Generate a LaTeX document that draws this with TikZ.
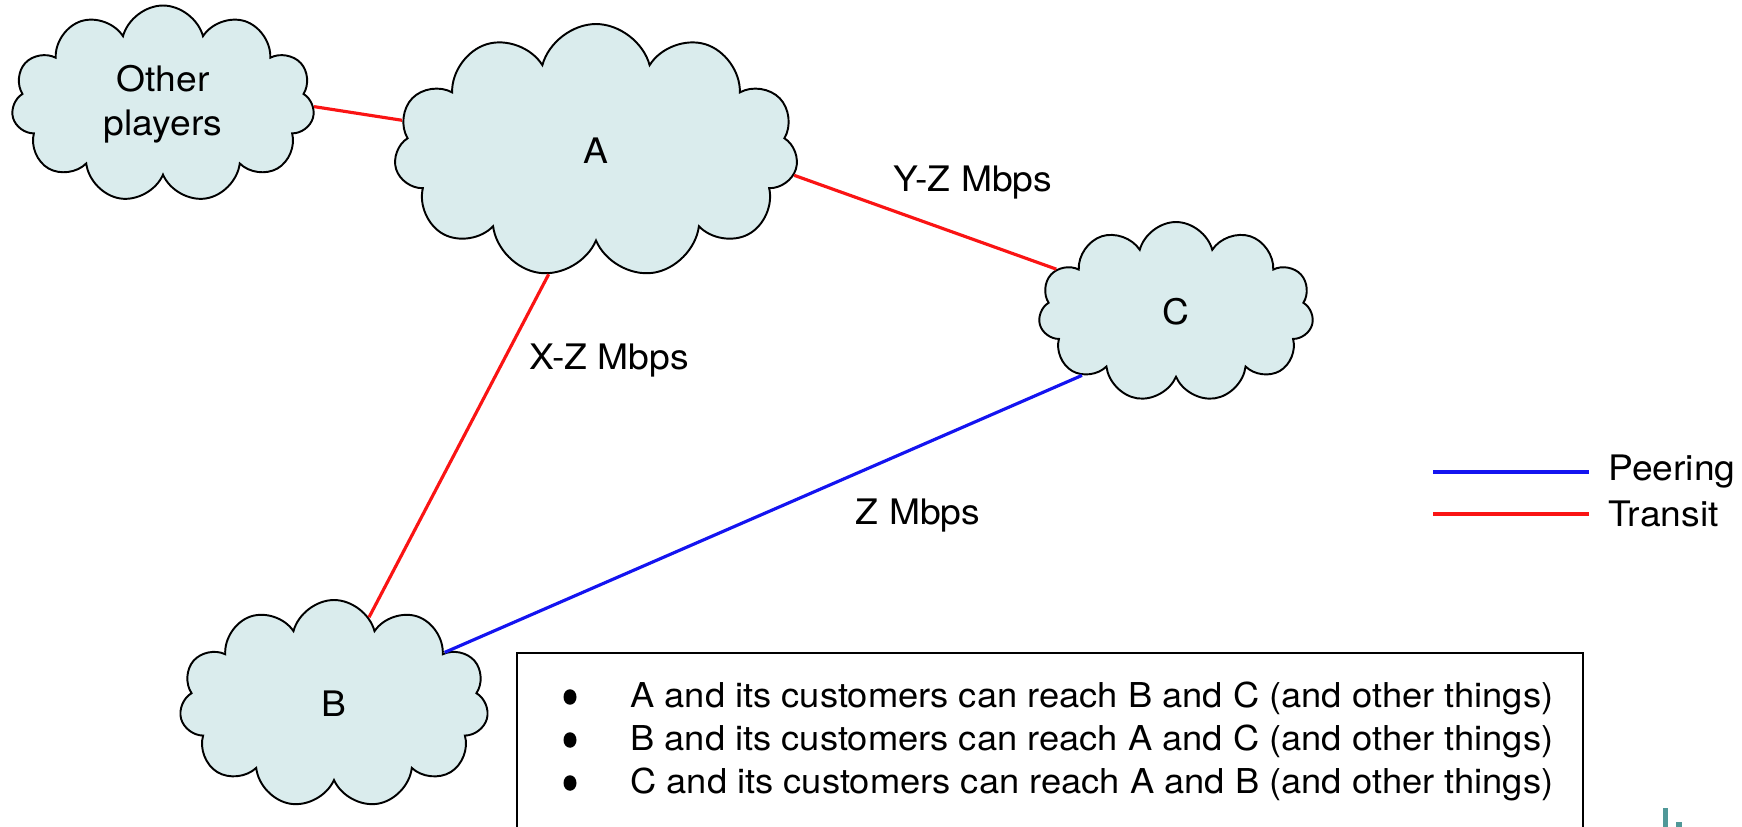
\documentclass[tikz,border=0pt]{standalone}
\usepackage{fontspec}
\setmainfont[FakeStretch=1.06]{TeX Gyre Heros}
\usetikzlibrary{shapes.symbols,shapes.geometric}
\definecolor{cloudfill}{RGB}{218,236,237}
\definecolor{peercol}{RGB}{20,20,240}
\definecolor{transitcol}{RGB}{250,20,20}
\definecolor{slideteal}{RGB}{80,152,152}
\tikzset{
  net/.style={cloud, cloud puffs=11, cloud ignores aspect, draw, line width=1.1pt,
    fill=cloudfill, align=center, inner sep=0pt},
  transitline/.style={transitcol, line width=1.8pt},
  peerline/.style={peercol, line width=1.8pt},
  note/.style={anchor=west, inner sep=0pt, font=\fontsize{19.5}{24}\selectfont},
  dot/.style={ellipse, fill=black, inner sep=0pt, minimum width=0.26cm, minimum height=0.31cm},
}
\begin{document}
\begin{tikzpicture}[x=0.02cm, y=-0.02cm, font=\fontsize{20}{25}\selectfont]
      \useasboundingbox (0,0) rectangle (1742,827);
      \path
        (163,104) node[net, minimum width=6.06cm, minimum height=3.94cm] (O){Other\\players}
        (596,151) node[net, minimum width=8.08cm, minimum height=5.08cm] (A){A}
        (1176,312) node[net, minimum width=5.5cm, minimum height=3.6cm] (C){C}
        (334,704) node[net, minimum width=6.18cm, minimum height=4.16cm] (B){B};
      \path
        (973,183) node (yz){Y-Z Mbps}
        (609,361) node (xz){X-Z Mbps}
        (918,516) node (z){Z Mbps};
      \begin{scope}[-]
        \draw[transitline] (O.-1) to (A.171);
        \draw[transitline] (A.-7) to (C);
        \draw[transitline] (A.-111) to (B.68);
        \draw[peerline] (B.25) to (C.214);
      \end{scope}
      % legend
      \coordinate (p0) at (1433,472);
      \coordinate (p1) at (1589,472);
      \coordinate (t0) at (1433,514);
      \coordinate (t1) at (1589,514);
      \draw[peerline] (p0) -- (p1);
      \draw[transitline] (t0) -- (t1);
      \node[anchor=west, inner sep=0pt] (peer) at (1608,472) {Peering};
      \node[anchor=west, inner sep=0pt] (transit) at (1608,514) {Transit};
      % box of notes
      \draw[line width=1.1pt] (517,830) -- (517,653) -- (1583,653) -- (1583,830);
      \path
        (570,697) node[dot] (b1){}
        (570,740) node[dot] (b2){}
        (570,783) node[dot] (b3){};
      \path
        (630,698) node[note] (n1){A and its customers can reach B and C (and other things)}
        (630,741) node[note] (n2){B and its customers can reach A and C (and other things)}
        (630,784) node[note] (n3){C and its customers can reach A and B (and other things)};
      \fill[slideteal] (1663,808) rectangle (1668,827);
      \fill[slideteal] (1676,822) rectangle (1682,827);
    \end{tikzpicture}
\end{document}
